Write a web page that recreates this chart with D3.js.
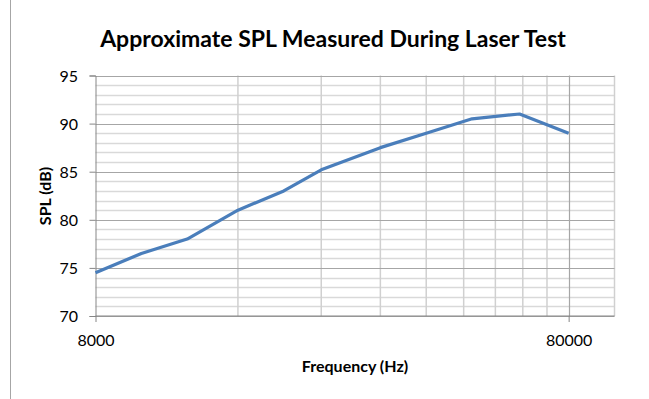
<!DOCTYPE html>
<html>
<head>
<meta charset="utf-8">
<script src="https://cdn.jsdelivr.net/npm/d3@7/dist/d3.min.js"></script>
<style>
  html, body { margin: 0; padding: 0; background: #fff; }
  svg { display: block; }
  text { font-family: Lato, "Open Sans", "Liberation Sans", sans-serif; fill: #000; }
</style>
</head>
<body>
<svg id="chart" width="649" height="399"></svg>
<script>
// Measured sound pressure level across the test band
const frequencies = [8000, 10000, 12500, 16000, 20000, 24000, 32000, 40000, 50000, 63000, 80000];
const splValues   = [74.5, 76.5, 78, 81, 83, 85.2, 87.5, 89, 90.5, 91, 89];
const xTickLabels = [8000, 80000];
const yTickLabels = [70, 75, 80, 85, 90, 95];
const xMinorTicks = [16000, 24000, 32000, 40000, 48000, 56000, 64000, 72000];
const yMinorTicks = d3.range(70, 96, 1).filter(v => v % 5 !== 0);

const svg = d3.select("#chart");
const plot = { left: 95.5, right: 614.5, top: 75.5, bottom: 316 };

const x = d3.scaleLog().domain([8000, 100000]).range([plot.left, plot.right]);
const y = d3.scaleLinear().domain([70, 95]).range([plot.bottom, plot.top]);

// chart area border
svg.append("line")
  .attr("x1", 10.5).attr("x2", 10.5).attr("y1", 0).attr("y2", 399)
  .attr("stroke", "#a6a6a6").attr("stroke-width", 1);

// minor horizontal gridlines
svg.append("g").selectAll("line").data(yMinorTicks).join("line")
  .attr("x1", plot.left).attr("x2", plot.right)
  .attr("y1", d => Math.round(y(d)) + 0.5).attr("y2", d => Math.round(y(d)) + 0.5)
  .attr("stroke", "#d9d9d9").attr("stroke-width", 1.5);

// minor vertical gridlines
svg.append("g").selectAll("line").data(xMinorTicks).join("line")
  .attr("x1", d => x(d)).attr("x2", d => x(d))
  .attr("y1", plot.top).attr("y2", plot.bottom)
  .attr("stroke", "#d0d0d0").attr("stroke-width", 1.5);

// plot area right edge
svg.append("line")
  .attr("x1", plot.right).attr("x2", plot.right)
  .attr("y1", plot.top).attr("y2", plot.bottom)
  .attr("stroke", "#d0d0d0").attr("stroke-width", 1.5);

// major horizontal gridlines
svg.append("g").selectAll("line").data(yTickLabels).join("line")
  .attr("x1", plot.left).attr("x2", plot.right)
  .attr("y1", d => Math.round(y(d)) + 0.5).attr("y2", d => Math.round(y(d)) + 0.5)
  .attr("stroke", "#a6a6a6").attr("stroke-width", 1.2);

// major vertical gridline
svg.append("line")
  .attr("x1", Math.round(x(80000)) + 0.5).attr("x2", Math.round(x(80000)) + 0.5)
  .attr("y1", plot.top).attr("y2", plot.bottom)
  .attr("stroke", "#a6a6a6").attr("stroke-width", 1.2);

// y axis
const yAxis = d3.axisLeft(y).tickValues(yTickLabels).tickSize(6).tickPadding(11.5).tickFormat(d3.format("d"));
const gy = svg.append("g").attr("transform", `translate(${plot.left},0)`).call(yAxis);
gy.select(".domain").attr("stroke", "#868686");
gy.selectAll(".tick line").attr("stroke", "#868686");
gy.selectAll(".tick text").attr("font-size", 16).attr("dy", "0.36em")
  .style("font-family", "Lato, 'Open Sans', sans-serif");

// x axis
const xAxis = d3.axisBottom(x).tickValues(xTickLabels).tickSize(6).tickFormat(d3.format("d"));
const gx = svg.append("g").attr("transform", `translate(0,${plot.bottom})`).call(xAxis);
gx.select(".domain").attr("stroke", "#868686").attr("d", `M${plot.left},0H${plot.right}`);
gx.selectAll(".tick line").attr("stroke", "#868686");
gx.selectAll(".tick text").attr("font-size", 16).attr("y", 29.5).attr("dy", 0)
  .style("font-family", "Lato, 'Open Sans', sans-serif");

// data line
const line = d3.line().x((d, i) => x(frequencies[i])).y(d => y(d));
svg.append("path")
  .datum(splValues)
  .attr("d", line)
  .attr("fill", "none")
  .attr("stroke", "#4a7ebb")
  .attr("stroke-width", 3.2)
  .attr("stroke-linejoin", "round");

// title
svg.append("text")
  .attr("x", 333).attr("y", 47)
  .attr("text-anchor", "middle")
  .attr("font-size", 23).attr("font-weight", "bold")
  .text("Approximate SPL Measured During Laser Test");

// axis titles
svg.append("text")
  .attr("x", 355).attr("y", 372)
  .attr("text-anchor", "middle")
  .attr("font-size", 16).attr("font-weight", "bold")
  .text("Frequency (Hz)");

svg.append("text")
  .attr("transform", "translate(51,196) rotate(-90)")
  .attr("text-anchor", "middle")
  .attr("font-size", 16).attr("font-weight", "bold")
  .text("SPL (dB)");
</script>
</body>
</html>
